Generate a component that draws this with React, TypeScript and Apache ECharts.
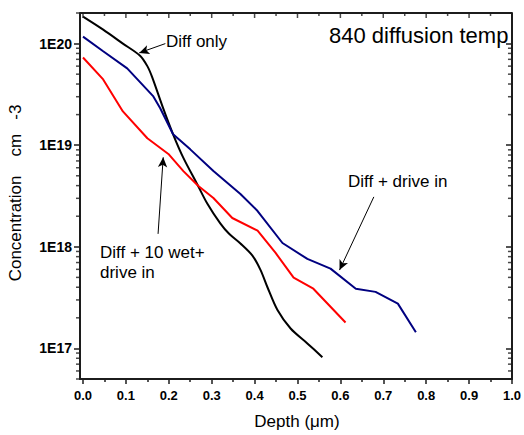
import React, { useEffect, useRef } from "react";
import * as echarts from "echarts";

// ---- Data ----
const diffOnlyDepth = [0.0, 0.047, 0.093, 0.133, 0.15, 0.161, 0.187, 0.21, 0.234, 0.266, 0.29, 0.32, 0.34, 0.367, 0.395, 0.414, 0.43, 0.453, 0.484, 0.523, 0.558];
const diffOnlyConc = [1.84e20, 1.37e20, 1.0e20, 7.6e19, 6.0e19, 4.7e19, 2.3e19, 1.28e19, 7.5e18, 4.15e18, 2.65e18, 1.7e18, 1.35e18, 1.08e18, 8.2e17, 5.9e17, 4.0e17, 2.4e17, 1.57e17, 1.12e17, 8.2e16];

const driveInDepth = [0.0, 0.047, 0.103, 0.164, 0.18, 0.21, 0.25, 0.304, 0.367, 0.407, 0.465, 0.523, 0.577, 0.636, 0.682, 0.734, 0.776];
const driveInConc = [1.17e20, 8.4e19, 5.7e19, 3.02e19, 2.31e19, 1.28e19, 9.1e18, 5.56e18, 3.31e18, 2.25e18, 1.09e18, 7.6e17, 6.1e17, 3.87e17, 3.6e17, 2.76e17, 1.44e17];

const wetDepth = [0.0, 0.047, 0.093, 0.15, 0.199, 0.234, 0.269, 0.304, 0.348, 0.407, 0.449, 0.491, 0.537, 0.612];
const wetConc = [7.3e19, 4.44e19, 2.15e19, 1.17e19, 8.2e18, 5.56e18, 3.96e18, 3.02e18, 1.92e18, 1.44e18, 8.7e17, 4.97e17, 3.87e17, 1.8e17];

// ---- Axis ticks ----
const depthTicks = [0, 0.1, 0.2, 0.3, 0.4, 0.5, 0.6, 0.7, 0.8, 0.9, 1.0];
const depthMinorTicks = [0.05, 0.15, 0.25, 0.35, 0.45, 0.55, 0.65, 0.75, 0.85, 0.95];
const concMinorTicks = [
  5e16, 6e16, 7e16, 8e16, 9e16,
  2e17, 3e17, 4e17, 5e17, 6e17, 7e17, 8e17, 9e17,
  2e18, 3e18, 4e18, 5e18, 6e18, 7e18, 8e18, 9e18,
  2e19, 3e19, 4e19, 5e19, 6e19, 7e19, 8e19, 9e19,
  2e20,
];

// ---- Annotations ----
const titleText = "840 diffusion temp";
const labelDiffOnly = "Diff only";
const labelDriveIn = "Diff + drive in";
const labelWet1 = "Diff + 10 wet+";
const labelWet2 = "drive in";
const yName = "Concentration    cm   -3";
const xName = "Depth (\u03bcm)";

const FONT = "'Liberation Sans', Arial, Helvetica, sans-serif";
const INK = "#000000";
const FRAME = "#1c1c1c";

const pairs = (xs: number[], ys: number[]) => xs.map((x, i) => [x, ys[i]]);

export default function App() {
  const ref = useRef<HTMLDivElement>(null);

  useEffect(() => {
    if (!ref.current) return;
    document.body.style.margin = "0";
    const chart = echarts.init(ref.current, undefined, { renderer: "svg" });

    const G_LEFT = 80;
    const G_TOP = 13;
    const G_RIGHT = 12;
    const G_BOTTOM = 56;

    const tickLine = { color: FRAME, width: 1.5 };
    const X_MIN = -0.007;
    const X_MAX = 1.0;
    const Y_MIN = 5e16;
    const Y_MAX = 2e20;

    const arrowLine = (from: number[], to: number[]) => ({
      silent: true,
      symbol: ["none", "arrow"],
      symbolSize: [7, 10],
      label: { show: false },
      lineStyle: { color: INK, width: 1, type: "solid" },
      emphasis: { disabled: true },
      data: [[{ coord: from }, { coord: to }]],
    });

    // tick marks placed through the axes' own scales
    const tickSeries = (data: number[][], size: number[], offset: number[]) => ({
      type: "scatter",
      silent: true,
      clip: false,
      symbol: "rect",
      symbolSize: size,
      symbolOffset: offset,
      itemStyle: { color: FRAME },
      emphasis: { disabled: true },
      z: 5,
      data,
    });

    const frameSeg = (a: number[], b: number[]) => [{ coord: a }, { coord: b }];

    const option: any = {
      animation: false,
      textStyle: { fontFamily: FONT },
      grid: { left: G_LEFT, right: G_RIGHT, top: G_TOP, bottom: G_BOTTOM, containLabel: false },
      xAxis: [
        {
          type: "value",
          position: "bottom",
          min: X_MIN,
          max: X_MAX,
          axisLine: { show: true, onZero: false, lineStyle: { color: FRAME, width: 2 } },
          axisTick: { show: true, length: 5, lineStyle: tickLine, customValues: depthTicks },
          axisLabel: {
            customValues: depthTicks,
            formatter: (v: number) => v.toFixed(1),
            fontWeight: "bold",
            fontSize: 13,
            color: INK,
            margin: 10,
            fontFamily: FONT,
          },
          splitLine: { show: false },
        },
        {
          type: "value",
          position: "bottom",
          min: X_MIN,
          max: X_MAX,
          axisLine: { show: false, onZero: false },
          axisTick: { show: true, length: 3, lineStyle: tickLine, customValues: depthMinorTicks },
          axisLabel: { show: false },
          splitLine: { show: false },
        },
      ],
      yAxis: [
        {
          type: "log",
          logBase: 10,
          position: "left",
          min: Y_MIN,
          max: Y_MAX,
          axisLine: { show: true, onZero: false, lineStyle: { color: FRAME, width: 2 } },
          axisTick: { show: true, length: 6, lineStyle: tickLine },
          axisLabel: {
            showMinLabel: false,
            showMaxLabel: false,
            formatter: (v: number) => "1E" + Math.round(Math.log10(v)),
            fontWeight: "bold",
            fontSize: 14,
            color: INK,
            margin: 8,
            fontFamily: FONT,
          },
          splitLine: { show: false },
        },
        {
          type: "log",
          logBase: 10,
          position: "right",
          min: Y_MIN,
          max: Y_MAX,
          axisLine: { show: true, onZero: false, lineStyle: { color: FRAME, width: 2 } },
          axisTick: { show: true, inside: true, length: 6, lineStyle: tickLine },
          axisLabel: { show: false },
          splitLine: { show: false },
        },
      ],
      series: [
        tickSeries(concMinorTicks.map((v) => [X_MIN, v]), [4, 1.5], [-2, 0]),
        tickSeries(concMinorTicks.map((v) => [X_MAX, v]), [4, 1.5], [-2, 0]),
        tickSeries(depthTicks.map((d) => [d, Y_MAX]), [1.5, 5], [0, 2.5]),
        tickSeries(depthMinorTicks.map((d) => [d, Y_MAX]), [1.5, 3], [0, 1.5]),
        {
          type: "line",
          name: "frame",
          data: [],
          clip: false,
          showSymbol: false,
          z: 6,
          markLine: {
            silent: true,
            symbol: ["none", "none"],
            label: { show: false },
            lineStyle: { color: FRAME, width: 2, type: "solid" },
            emphasis: { disabled: true },
            data: [
              frameSeg([X_MIN, Y_MIN], [X_MAX, Y_MIN]),
              frameSeg([X_MIN, Y_MAX], [X_MAX, Y_MAX]),
              frameSeg([X_MIN, Y_MIN], [X_MIN, Y_MAX]),
              frameSeg([X_MAX, Y_MIN], [X_MAX, Y_MAX]),
            ],
          },
        },
        {
          type: "line",
          name: "Diff only",
          data: pairs(diffOnlyDepth, diffOnlyConc),
          showSymbol: false,
          smooth: 0.3,
          lineStyle: { color: INK, width: 2 },
          itemStyle: { color: INK },
          z: 3,
          markLine: arrowLine([0.192, 1.0e20], [0.131, 8.1e19]),
        },
        {
          type: "line",
          name: "Diff + drive in",
          data: pairs(driveInDepth, driveInConc),
          showSymbol: false,
          lineStyle: { color: "#000080", width: 2 },
          itemStyle: { color: "#000080" },
          z: 3,
          markLine: arrowLine([0.678, 3.1e18], [0.598, 5.9e17]),
        },
        {
          type: "line",
          name: "Diff + 10 wet + drive in",
          data: pairs(wetDepth, wetConc),
          showSymbol: false,
          lineStyle: { color: "#ff0000", width: 2 },
          itemStyle: { color: "#ff0000" },
          z: 3,
          markLine: arrowLine([0.175, 1.34e18], [0.187, 7.6e18]),
        },
      ],
      graphic: [
        {
          type: "text",
          left: 329,
          top: 24,
          style: { text: titleText, font: `22px ${FONT}`, fill: INK },
        },
        {
          type: "text",
          left: 166,
          top: 33,
          style: { text: labelDiffOnly, font: `17px ${FONT}`, fill: INK },
        },
        {
          type: "text",
          left: 348,
          top: 173,
          style: { text: labelDriveIn, font: `17px ${FONT}`, fill: INK },
        },
        {
          type: "text",
          left: 100,
          top: 244,
          style: { text: labelWet1, font: `17px ${FONT}`, fill: INK },
        },
        {
          type: "text",
          left: 100,
          top: 264,
          style: { text: labelWet2, font: `17px ${FONT}`, fill: INK },
        },
        {
          type: "text",
          x: 15,
          y: 193,
          rotation: Math.PI / 2,
          style: {
            text: yName,
            font: `17px ${FONT}`,
            fill: INK,
            textAlign: "center",
            textVerticalAlign: "middle",
          },
        },
        {
          type: "text",
          x: 297,
          y: 421,
          style: {
            text: xName,
            font: `17px ${FONT}`,
            fill: INK,
            textAlign: "center",
            textVerticalAlign: "middle",
          },
        },
      ],
    };

    chart.setOption(option);
    return () => chart.dispose();
  }, []);

  return (
    <div
      ref={ref}
      style={{ position: "absolute", left: 0, top: 0, width: 524, height: 435, background: "#fff" }}
    />
  );
}
